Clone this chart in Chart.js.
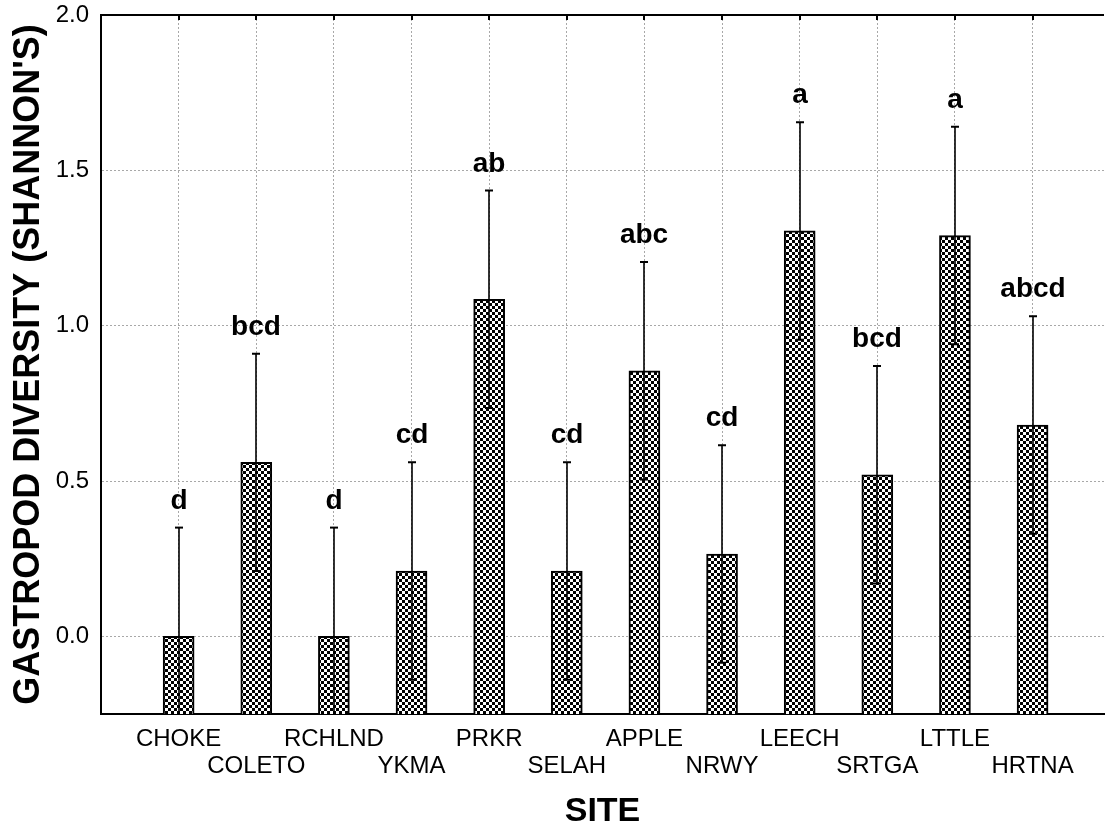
<!DOCTYPE html>
<html>
<head>
<meta charset="utf-8">
<script src="https://cdn.jsdelivr.net/npm/chart.js@4.4.0/dist/chart.umd.min.js"></script>
<style>
    html, body { margin: 0; padding: 0; background: #fff; }
</style>
</head>
<body>
<canvas id="diversityChart" width="1105" height="833"></canvas>
<script>
// values
const sites = ['CHOKE', 'COLETO', 'RCHLND', 'YKMA', 'PRKR', 'SELAH', 'APPLE', 'NRWY', 'LEECH', 'SRTGA', 'LTTLE', 'HRTNA'];
const sitePos = [1, 2, 3, 4, 5, 6, 7, 8, 9, 10, 11, 12];
const means = [0.00, 0.56, 0.00, 0.21, 1.085, 0.21, 0.855, 0.265, 1.305, 0.52, 1.29, 0.68];
const stdErr = [0.35, 0.35, 0.35, 0.35, 0.35, 0.35, 0.35, 0.35, 0.35, 0.35, 0.35, 0.35];
const groupLetters = ['d', 'bcd', 'd', 'cd', 'ab', 'cd', 'abc', 'cd', 'a', 'bcd', 'a', 'abcd'];
const yTicks = [0.0, 0.5, 1.0, 1.5, 2.0];
const yMin = -0.25, yMax = 2.0;
const xMin = 0, xMax = 12.92;

const FONT = "'Liberation Sans', Arial, sans-serif";

function checkerPattern() {
    const c = document.createElement('canvas');
    c.width = 6;
    c.height = 6;
    const g = c.getContext('2d');
    g.fillStyle = '#fff';
    g.fillRect(0, 0, 6, 6);
    g.fillStyle = '#000';
    g.fillRect(0, 0, 3, 3);
    g.fillRect(3, 3, 3, 3);
    return g.createPattern(c, 'repeat');
}

// error bars, group letters and the top frame line
const annotate = {
    id: 'annotate',
    afterDatasetsDraw(chart) {
        const { ctx, chartArea, scales: { x, y } } = chart;
        ctx.save();
        ctx.strokeStyle = '#000';
        ctx.lineWidth = 2;
        ctx.beginPath();
        ctx.moveTo(chartArea.left - 1, chartArea.top);
        ctx.lineTo(chartArea.right, chartArea.top);
        ctx.stroke();

        sitePos.forEach((p, i) => {
            const px = Math.round(x.getPixelForValue(p));
            const hi = y.getPixelForValue(means[i] + stdErr[i]);
            const lo = y.getPixelForValue(means[i] - stdErr[i]);

            // small tick on the top frame
            ctx.lineWidth = 2;
            ctx.beginPath();
            ctx.moveTo(px, chartArea.top);
            ctx.lineTo(px, chartArea.top + 5);
            ctx.stroke();

            ctx.lineWidth = 1.6;
            ctx.beginPath();
            ctx.moveTo(px, hi);
            ctx.lineTo(px, Math.min(lo, chartArea.bottom));
            ctx.stroke();

            ctx.lineWidth = 2;
            ctx.beginPath();
            ctx.moveTo(px - 4, hi);
            ctx.lineTo(px + 4, hi);
            if (lo < chartArea.bottom) {
                ctx.moveTo(px - 4, lo);
                ctx.lineTo(px + 4, lo);
            }
            ctx.stroke();

            ctx.fillStyle = '#000';
            ctx.font = 'bold 28px ' + FONT;
            ctx.textAlign = 'center';
            ctx.textBaseline = 'alphabetic';
            ctx.fillText(groupLetters[i], px, hi - 19);
        });
        ctx.restore();
    }
};

new Chart(document.getElementById('diversityChart').getContext('2d'), {
    type: 'bar',
    data: {
        datasets: [{
            data: sitePos.map((p, i) => ({ x: p, y: means[i] })),
            base: yMin,
            backgroundColor: checkerPattern(),
            borderColor: '#000',
            borderWidth: 2,
            barThickness: 31
        }]
    },
    options: {
        responsive: false,
        animation: false,
        layout: {
            padding: { top: 15, right: 1, bottom: 0, left: 0 }
        },
        plugins: {
            legend: { display: false },
            tooltip: { enabled: false }
        },
        scales: {
            x: {
                type: 'linear',
                offset: false,
                min: xMin,
                max: xMax,
                afterBuildTicks: scale => {
                    scale.ticks = sitePos.map(v => ({ value: v }));
                },
                afterFit: scale => {
                    scale.height = 119;
                    scale.paddingLeft = 0;
                    scale.paddingRight = 0;
                },
                grid: {
                    offset: false,
                    color: '#a8a8a8',
                    lineWidth: 1,
                    drawTicks: false
                },
                border: {
                    display: true,
                    color: '#000',
                    width: 2,
                    dash: [2, 2]
                },
                ticks: {
                    autoSkip: false,
                    maxRotation: 0,
                    padding: 12,
                    color: '#000',
                    font: { family: FONT, size: 24, lineHeight: 1.12 },
                    callback: (value, index) => index % 2 === 0 ? [sites[index], ''] : ['', sites[index]]
                },
                title: {
                    display: true,
                    text: 'SITE',
                    color: '#000',
                    font: { family: FONT, size: 34, weight: 'bold' },
                    padding: { top: 0, bottom: 1 }
                }
            },
            y: {
                min: yMin,
                max: yMax,
                afterBuildTicks: scale => {
                    scale.ticks = yTicks.map(v => ({ value: v }));
                },
                afterFit: scale => {
                    scale.width = 101;
                    scale.paddingTop = 0;
                    scale.paddingBottom = 0;
                },
                grid: {
                    color: '#a8a8a8',
                    lineWidth: 1,
                    drawTicks: false
                },
                border: {
                    display: true,
                    color: '#000',
                    width: 2,
                    dash: [2, 2]
                },
                ticks: {
                    padding: 12,
                    color: '#000',
                    font: { family: FONT, size: 24 },
                    callback: value => value.toFixed(1)
                },
                title: {
                    display: true,
                    text: "GASTROPOD DIVERSITY (SHANNON'S)",
                    color: '#000',
                    font: { family: FONT, size: 36, weight: 'bold' },
                    padding: { top: 7, bottom: 0 }
                }
            }
        }
    },
    plugins: [annotate]
});
</script>
</body>
</html>
